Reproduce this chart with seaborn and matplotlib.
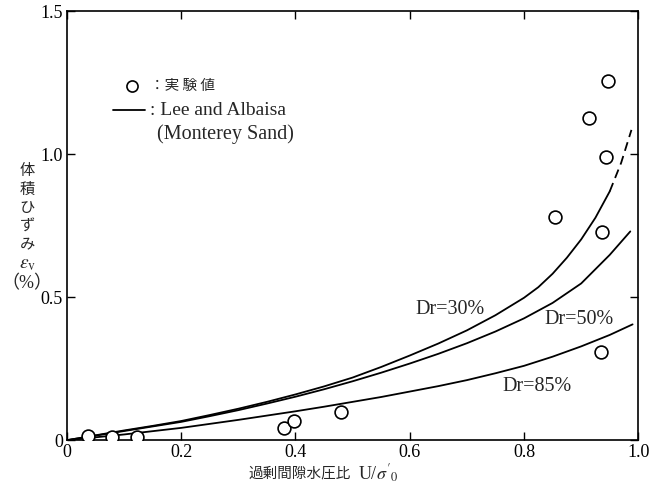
import matplotlib
matplotlib.use("Agg")
import matplotlib.pyplot as plt
import seaborn as sns
import pandas as pd

# Measured volumetric strain vs. excess pore pressure ratio
exp_ratio = [0.037, 0.079, 0.122, 0.380, 0.397, 0.480, 0.855, 0.913, 0.935, 0.937, 0.944, 0.947]
exp_strain = [0.014, 0.010, 0.010, 0.042, 0.066, 0.098, 0.780, 1.126, 0.308, 0.727, 0.990, 1.255]

# Lee and Albaisa curves (Monterey Sand)
dr30_ratio = [0.0, 0.05, 0.1, 0.15, 0.2, 0.25, 0.3, 0.35, 0.4, 0.45, 0.5, 0.55, 0.6, 0.65,
              0.7, 0.75, 0.8, 0.825, 0.85, 0.875, 0.9, 0.925, 0.95]
dr30_strain = [0.0, 0.017, 0.034, 0.050, 0.067, 0.088, 0.110, 0.134, 0.160, 0.188, 0.219,
               0.256, 0.296, 0.338, 0.384, 0.437, 0.498, 0.535, 0.582, 0.638, 0.702, 0.778, 0.870]
dr30_ext_ratio = [0.95, 0.97, 0.988]
dr30_ext_strain = [0.870, 0.970, 1.085]

dr50_ratio = [0.0, 0.05, 0.1, 0.15, 0.2, 0.25, 0.3, 0.35, 0.4, 0.45, 0.5, 0.55, 0.6, 0.65,
              0.7, 0.75, 0.8, 0.85, 0.9, 0.95, 0.986]
dr50_strain = [0.0, 0.016, 0.032, 0.048, 0.064, 0.084, 0.105, 0.128, 0.152, 0.178, 0.206,
               0.236, 0.268, 0.302, 0.339, 0.380, 0.426, 0.480, 0.548, 0.648, 0.730]

dr85_ratio = [0.0, 0.1, 0.2, 0.3, 0.4, 0.45, 0.5, 0.55, 0.6, 0.65, 0.7, 0.75, 0.8, 0.85,
              0.9, 0.95, 0.99]
dr85_strain = [0.0, 0.020, 0.043, 0.071, 0.101, 0.117, 0.134, 0.151, 0.170, 0.189, 0.210,
               0.234, 0.260, 0.292, 0.328, 0.368, 0.405]

curve_labels = ["Dr=30%", "Dr=50%", "Dr=85%"]
x_ticks = [0, 0.2, 0.4, 0.6, 0.8, 1.0]
x_tick_labels = ["0", "0.2", "0.4", "0.6", "0.8", "1.0"]
y_ticks = [0, 0.5, 1.0, 1.5]
y_tick_labels = ["0", "0.5", "1.0", "1.5"]

sns.set_theme(style="ticks")
plt.rcParams["font.family"] = ["Liberation Serif", "Noto Sans CJK JP", "DejaVu Sans"]
plt.rcParams["mathtext.fontset"] = "stix"

fig = plt.figure(figsize=(6.5, 4.88), dpi=100)
ax = fig.add_axes([0.103, 0.098, 0.879, 0.879])

curves = pd.concat([
    pd.DataFrame({"ratio": dr30_ratio, "strain": dr30_strain, "Dr": curve_labels[0]}),
    pd.DataFrame({"ratio": dr50_ratio, "strain": dr50_strain, "Dr": curve_labels[1]}),
    pd.DataFrame({"ratio": dr85_ratio, "strain": dr85_strain, "Dr": curve_labels[2]}),
])
sns.lineplot(data=curves, x="ratio", y="strain", units="Dr", estimator=None,
             color="black", linewidth=1.3, sort=False, ax=ax, legend=False)
sns.lineplot(x=dr30_ext_ratio, y=dr30_ext_strain, color="black", linewidth=1.3,
             linestyle=(0, (5, 3)), sort=False, ax=ax, legend=False)

sns.scatterplot(x=exp_ratio, y=exp_strain, marker="o", s=85, facecolor="white",
                edgecolor="black", linewidth=1.2, ax=ax, zorder=5, legend=False)

ax.set_xlim(0, 1.0)
ax.set_ylim(0, 1.5)
ax.set_xticks(x_ticks)
ax.set_xticklabels(x_tick_labels)
ax.set_yticks(y_ticks)
ax.set_yticklabels(y_tick_labels)
ax.tick_params(direction="in", length=6, width=1, top=True, right=True,
               labelsize=13, colors="black", pad=3)
for side in ["left", "right", "top", "bottom"]:
    ax.spines[side].set_visible(True)
    ax.spines[side].set_linewidth(1.2)
    ax.spines[side].set_color("black")

ax.set_xlabel("")
ax.set_ylabel("")

# Curve annotations
ax.text(0.67, 0.458, curve_labels[0], fontsize=14.5, ha="center", va="center")
ax.text(0.897, 0.423, curve_labels[1], fontsize=14.5, ha="center", va="center")
ax.text(0.823, 0.189, curve_labels[2], fontsize=14.5, ha="center", va="center")

# Key
ax.plot([0.114], [1.238], marker="o", markersize=8, markerfacecolor="white",
        markeredgecolor="black", markeredgewidth=1.2, linestyle="none", clip_on=False)
ax.text(0.145, 1.238, "：実 験 値", fontsize=10.5, ha="left", va="center",
        family=["Noto Sans CJK JP", "DejaVu Sans"])
ax.plot([0.080, 0.136], [1.154, 1.154], color="black", linewidth=1.3)
ax.text(0.145, 1.154, ": Lee and Albaisa", fontsize=14, ha="left", va="center")
ax.text(0.157, 1.07, "(Monterey Sand)", fontsize=14.5, ha="left", va="center")

# Axis titles
fig.text(0.042, 0.574, "体\n積\nひ\nず\nみ", fontsize=11, ha="center", va="center",
         family=["Noto Sans CJK JP", "DejaVu Sans"], linespacing=1.12)
fig.text(0.042, 0.457, r"$\varepsilon_{\rm v}$", fontsize=14, ha="center", va="center")
fig.text(0.042, 0.418, "（%）", fontsize=13, ha="center", va="center")
fig.text(0.540, 0.029, "過剰間隙水圧比", fontsize=10.5, ha="right", va="center",
         family=["Noto Sans CJK JP", "DejaVu Sans"])
fig.text(0.550, 0.029, r"U/$\sigma'_0$", fontsize=13, ha="left", va="center")

fig.savefig("out.png", dpi=100, facecolor="white")
